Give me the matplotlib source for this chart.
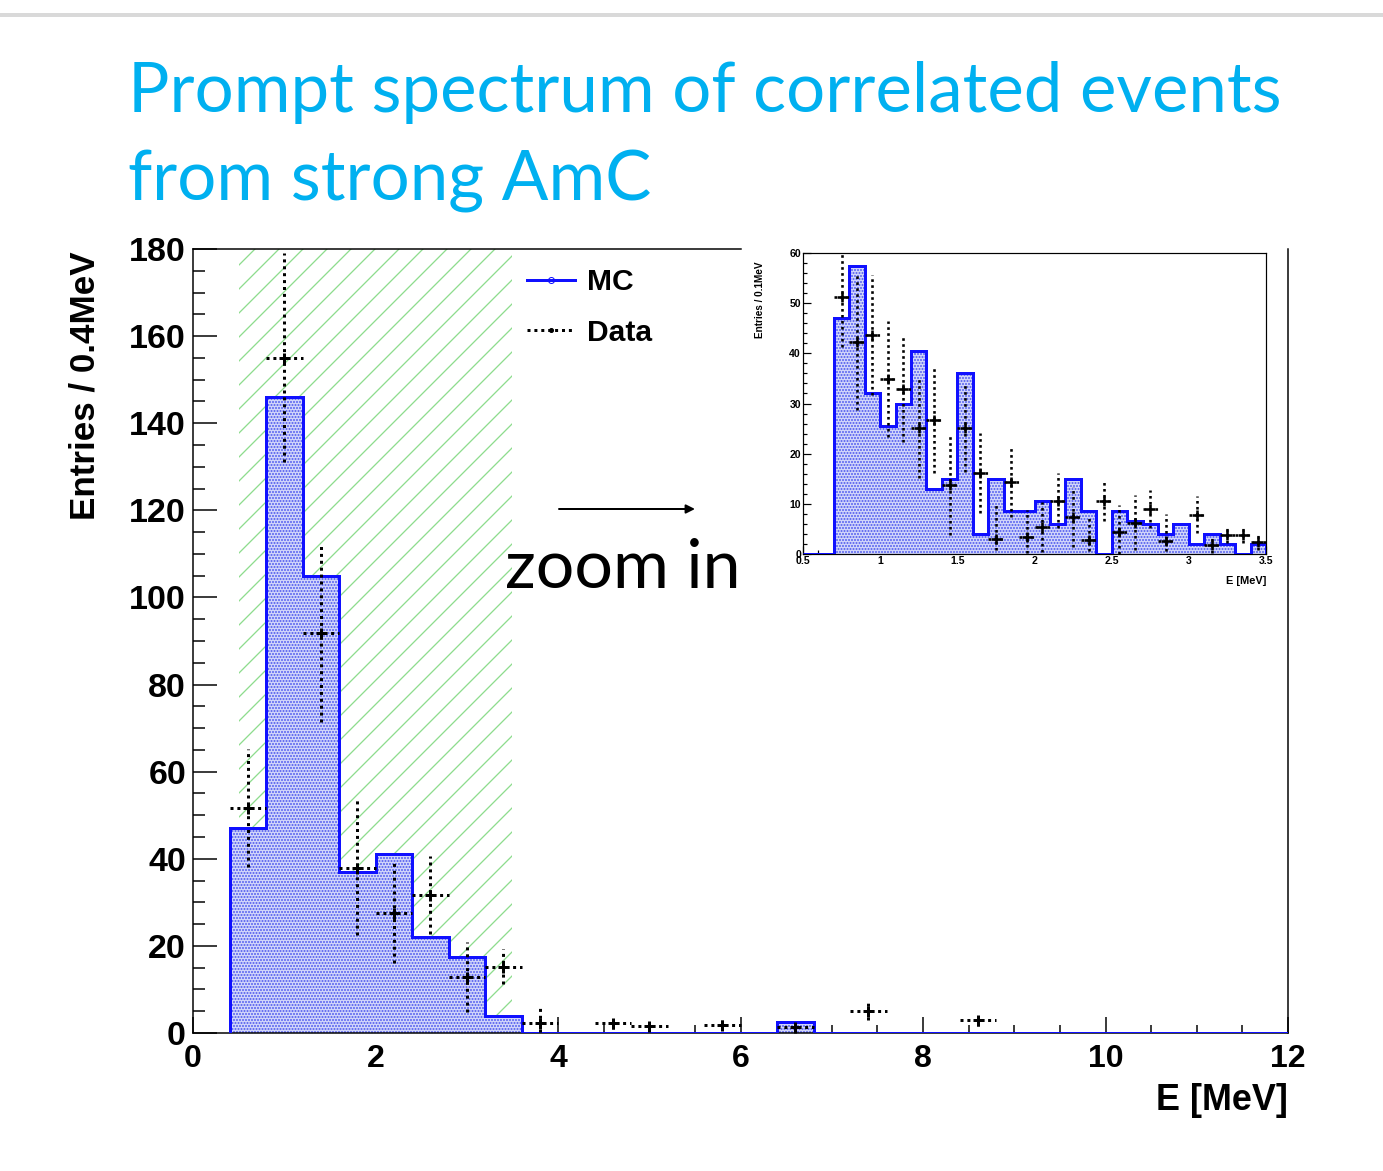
import matplotlib.pyplot as plt
import numpy as np
from matplotlib.lines import Line2D
from matplotlib.ticker import MultipleLocator

W, H = 1383, 1171
DPI = 72

# main histogram, 0.4 MeV bins
mc_edges = np.arange(0.4, 12.01, 0.4)
mc_vals = [47, 146, 105, 37, 41, 22, 17.5, 4, 0, 0, 0, 0, 0, 0, 0, 2.5,
           0, 0, 0, 0, 0, 0, 0, 0, 0, 0, 0, 0, 0]
data_x = [0.6, 1.0, 1.4, 1.8, 2.2, 2.6, 3.0, 3.4, 3.8, 4.6, 5.0, 5.8, 6.6, 7.4, 8.6]
data_y = [51.6, 155, 91.8, 37.9, 27.5, 31.7, 12.9, 15.2, 2.2, 2.2, 1.5, 1.8, 1.4, 5.1, 3.0]
data_err = [13.5, 24, 20.5, 15.5, 11.5, 9, 8, 4, 3.5, 1.2, 1.0, 1.2, 1.5, 2.2, 1.5]

# zoomed histogram, 0.1 MeV bins
z_edges = np.arange(0.5, 3.501, 0.1)
z_mc = [0, 0, 47, 57.5, 32, 25.5, 30, 40.5, 13, 15, 36, 4, 15, 8.5, 8.5,
        10.5, 6, 15, 8.5, 0, 8.5, 6.5, 6, 4, 6, 2, 4, 2, 0, 2]
z_x = [0.75, 0.85, 0.95, 1.05, 1.15, 1.25, 1.35, 1.45, 1.55, 1.65, 1.75, 1.85,
       1.95, 2.05, 2.15, 2.25, 2.35, 2.45, 2.55, 2.65, 2.75, 2.85, 3.05, 3.15,
       3.25, 3.35, 3.45]
z_y = [51.2, 42.2, 43.6, 34.9, 32.9, 25.1, 26.7, 13.7, 25.1, 16.1, 3.0, 14.4,
       3.3, 5.3, 10.6, 7.4, 2.8, 10.6, 4.3, 6.2, 8.9, 2.5, 7.8, 1.8, 3.8, 3.8, 2.3]
z_err = [10, 13.5, 12, 11.5, 10.5, 10, 10.5, 10, 8.7, 8, 7, 7, 5.5, 5, 5.5, 6,
         4.5, 4, 5.5, 5.5, 3.8, 5.5, 3.7, 1.7, 1.6, 1.6, 1.6]

font = ['Liberation Sans', 'DejaVu Sans']
plt.rcParams['font.family'] = font
plt.rcParams['hatch.linewidth'] = 1.3


def draw_hist(ax, edges, vals, x, y, err, xw, lw, elw, ms):
    ax.stairs(vals, edges, fill=True, facecolor='#d0d4fa', edgecolor='#4a55ee',
              linewidth=0, hatch='....', zorder=2)
    ax.stairs(vals, edges, color='#1010ff', linewidth=lw, baseline=0, zorder=3)
    eb = ax.errorbar(x, y, yerr=err, xerr=xw, fmt='none', ecolor='black',
                     elinewidth=elw, capsize=0, zorder=4)
    for c in eb[2]:
        c.set_linestyle((0, (1, 1.3)))
    ax.plot(x, y, '+', color='black', ms=ms, mew=elw, zorder=5)


fig = plt.figure(figsize=(W / DPI, H / DPI), dpi=DPI)

# gray rule at the top of the slide
fig.add_artist(Line2D([0, 1], [1 - 15 / H] * 2, color='#d9d9d9', lw=4))

fig.text(128 / W, 1 - 112 / H, 'Prompt spectrum of correlated events',
         color='#00b0f0', fontsize=69, family='Lato', va='baseline', ha='left')
fig.text(128 / W, 1 - 201 / H, 'from strong AmC',
         color='#00b0f0', fontsize=69, family='Lato', va='baseline', ha='left')

ax = fig.add_axes([193 / W, 1 - 1033 / H, (1288 - 193) / W, (1033 - 249) / H])
ax.axvspan(0.5, 3.5, facecolor='none', edgecolor='#8edc8e', hatch='/',
           linewidth=0, zorder=1)
draw_hist(ax, mc_edges, mc_vals, data_x, data_y, data_err, 0.2, 3, 3, 11)

ax.set_xlim(0, 12)
ax.set_ylim(0, 180)
ax.xaxis.set_major_locator(MultipleLocator(2))
ax.xaxis.set_minor_locator(MultipleLocator(0.5))
ax.yaxis.set_major_locator(MultipleLocator(20))
ax.yaxis.set_minor_locator(MultipleLocator(5))
ax.tick_params(axis='y', which='major', direction='in', length=24, width=1.5,
               labelsize=34, pad=7)
ax.tick_params(axis='y', which='minor', direction='in', length=12, width=1.5)
ax.tick_params(axis='x', which='major', direction='in', length=16, width=1.5,
               labelsize=32, pad=11)
ax.tick_params(axis='x', which='minor', direction='in', length=8, width=1.5)
for lab in ax.get_xticklabels() + ax.get_yticklabels():
    lab.set_fontweight('bold')
for s in ax.spines.values():
    s.set_linewidth(1.5)
ax.spines['top'].set_bounds(0, 6.0)

fig.text(1288 / W, 1 - 1100 / H, 'E [MeV]', fontsize=36, fontweight='bold',
         ha='right', va='center')
fig.text(85 / W, 1 - 386 / H, 'Entries / 0.4MeV', fontsize=35,
         fontweight='bold', rotation=90, ha='center', va='center')

handles = [Line2D([], [], color='#1010ff', lw=3, marker='o', mfc='none', ms=6),
           Line2D([], [], color='black', lw=3, ls=(0, (1, 1.3)), marker='.', ms=8)]
leg = ax.legend(handles, ['MC', 'Data'], loc='upper left',
                bbox_to_anchor=((500 - 193) / (1288 - 193), 1.01),
                frameon=False, prop={'size': 30, 'weight': 'bold'},
                handlelength=1.6, handletextpad=0.4, labelspacing=0.75)

fig.text(505 / W, 1 - 588 / H, 'zoom in', fontsize=68, family='Lato',
         ha='left', va='baseline')
fig.add_artist(plt.Annotation('', xy=(697 / W, 1 - 509 / H),
                              xytext=(557 / W, 1 - 509 / H),
                              xycoords='figure fraction',
                              textcoords='figure fraction',
                              arrowprops=dict(arrowstyle='-|>', lw=2,
                                              color='black', mutation_scale=18)))

# zoomed-in histogram
ins = fig.add_axes([803 / W, 1 - 554 / H, (1266 - 803) / W, (554 - 253) / H])
draw_hist(ins, z_edges, z_mc, z_x, z_y, z_err, 0.05, 3, 2.6, 10)
ins.set_xlim(0.5, 3.5)
ins.set_ylim(0, 60)
ins.xaxis.set_minor_locator(MultipleLocator(0.1))
ins.yaxis.set_major_locator(MultipleLocator(10))
ins.yaxis.set_minor_locator(MultipleLocator(2))
ins.set_xticks([0.5, 1, 1.5, 2, 2.5, 3, 3.5], ['0.5', '1', '1.5', '2', '2.5', '3', '3.5'])
ins.tick_params(axis='both', which='major', direction='in', length=8, width=1.2,
                labelsize=10.5, pad=2)
ins.tick_params(axis='both', which='minor', direction='in', length=4, width=1.2)
for lab in ins.get_xticklabels() + ins.get_yticklabels():
    lab.set_fontweight('bold')
for s in ins.spines.values():
    s.set_linewidth(1.2)
fig.text(1266 / W, 1 - 581 / H, 'E [MeV]', fontsize=11, fontweight='bold',
         ha='right', va='center')
fig.text(760 / W, 1 - 300 / H, 'Entries / 0.1MeV', fontsize=10,
         fontweight='bold', rotation=90, ha='center', va='center')

fig.savefig('out.png', dpi=DPI)
